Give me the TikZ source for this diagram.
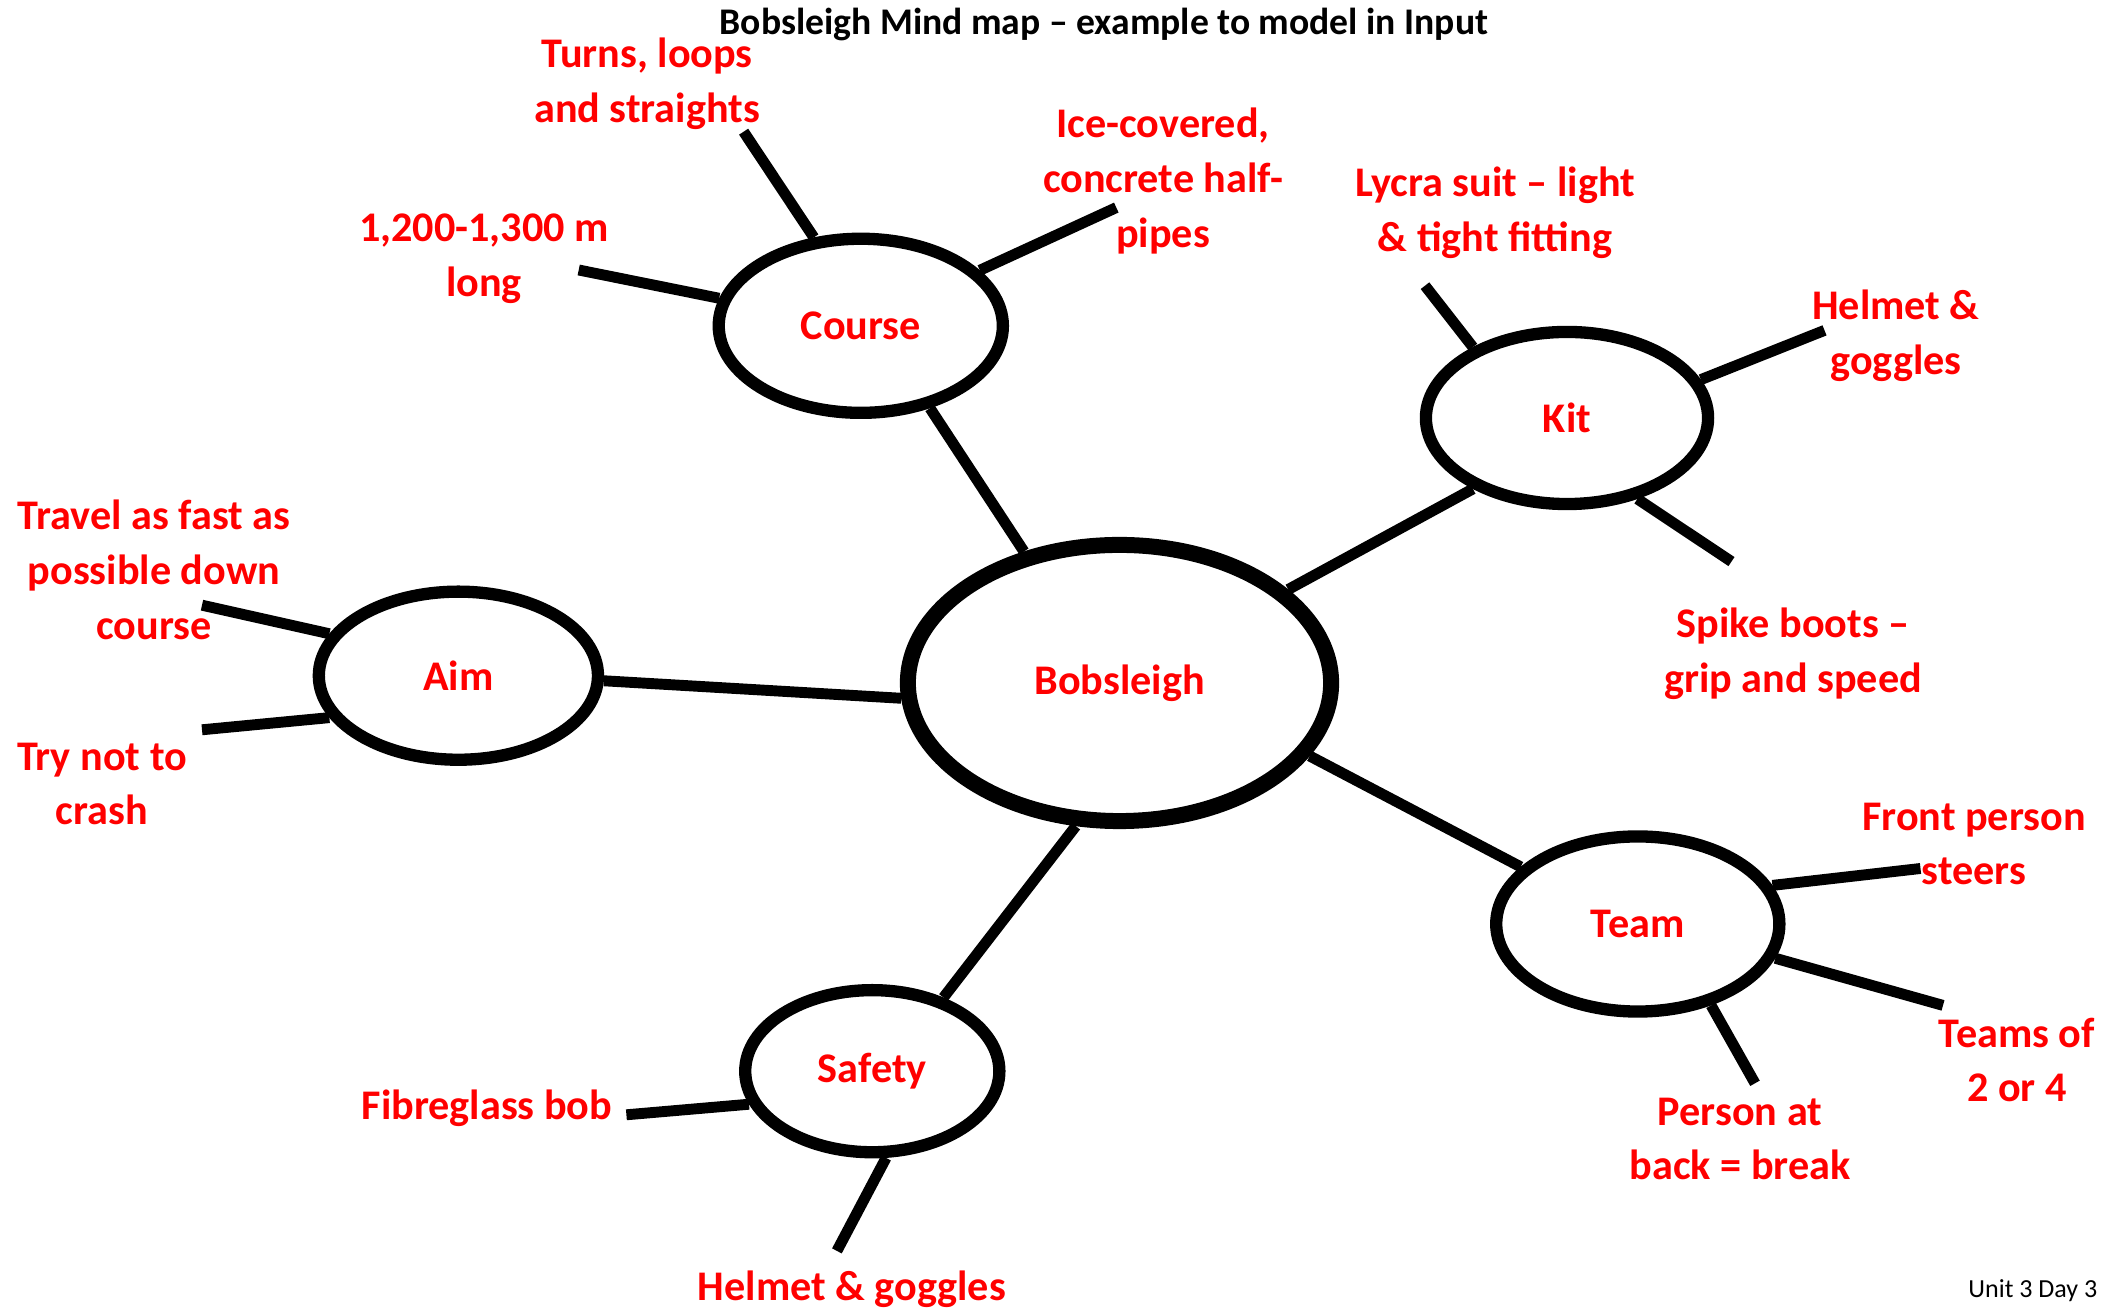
\documentclass[tikz,border=0pt]{standalone}
\usepackage{fontspec}
\setmainfont{Carlito}
\usetikzlibrary{shapes.geometric}

\begin{document}
\begin{tikzpicture}[
	x=0.01cm, y=-0.01cm,
	every node/.style={font=\bfseries\fontsize{12}{15.6}\selectfont},
	bubble/.style={ellipse, draw, line width=3.5pt, text=red, inner sep=0pt},
	hub/.style={bubble, line width=4.55pt},
	leaf/.style={text=red, align=center, inner sep=0pt},
	link/.style={line width=3.1pt}
	]
	\useasboundingbox (0,0) rectangle (2105,1310);
	
	% Title and footer
	\node[anchor=base, font=\bfseries\fontsize{10.7}{13}\selectfont] (title) at (1104,35) {Bobsleigh Mind map -- example to model in Input};
	\node[anchor=base east, inner sep=0pt, font=\fontsize{7.4}{9}\selectfont] (footer) at (2098,1298) {Unit 3 Day 3};
	
	% Bubbles
	\node[hub, minimum width=4.23cm, minimum height=2.76cm] (bob) at (1119.5,683) {Bobsleigh};
	\node[bubble, minimum width=2.84cm, minimum height=1.74cm] (course) at (860.8,325.8) {Course};
	\node[bubble, minimum width=2.82cm, minimum height=1.72cm] (kit) at (1567,418) {Kit};
	\node[bubble, minimum width=2.79cm, minimum height=1.68cm] (aim) at (458.4,675.7) {Aim};
	\node[bubble, minimum width=2.83cm, minimum height=1.75cm] (team) at (1637.8,924) {Team};
	\node[bubble, minimum width=2.54cm, minimum height=1.62cm] (safety) at (872.3,1071.2) {Safety};
	
	% Leaves
	\node[leaf] (turns) at (647,84) {Turns, loops\\and straights};
	\node[leaf] (length) at (484,259) {1,200-1,300 m\\long};
	\node[leaf] (ice) at (1163,181) {Ice-covered,\\concrete half-\\pipes};
	\node[leaf] (lycra) at (1495,213) {Lycra suit -- light\\\& tight fitting};
	\node[leaf] (helmet-kit) at (1896,336) {Helmet \&\\goggles};
	\node[leaf] (spike) at (1793,654) {Spike boots --\\grip and speed};
	\node[leaf] (travel) at (154,569.5) {Travel as fast as\\possible down\\course};
	\node[leaf] (crash) at (102,784) {Try not to\\crash};
	\node[leaf] (front) at (1974,844) {Front person\\steers};
	\node[leaf] (teams) at (2017,1060) {Teams of\\2 or 4};
	\node[leaf] (back) at (1740,1139) {Person at\\back = break};
	\node[leaf, anchor=base] (fibre) at (487,1120) {Fibreglass bob};
	\node[leaf, anchor=base] (helmet-safety) at (852,1301) {Helmet \& goggles};
	
	% Free ends of the leaf lines
	\coordinate (turns-end) at (743.6,131.7);
	\coordinate (length-end) at (578.7,270);
	\coordinate (ice-end) at (1116.3,207.6);
	\coordinate (lycra-end) at (1425,285.7);
	\coordinate (helmet-kit-end) at (1824.5,330.4);
	\coordinate (spike-end) at (1731.5,561.6);
	\coordinate (travel-end) at (202,605.2);
	\coordinate (crash-end) at (202,729.8);
	\coordinate (front-end) at (1920.5,868.5);
	\coordinate (teams-end) at (1943,1005.4);
	\coordinate (back-end) at (1755,1083.3);
	\coordinate (fibre-end) at (626.4,1114.8);
	\coordinate (helmet-safety-end) at (836.9,1250.9);
	
	% Hub to bubbles
	\draw[link] (bob.126.8) -- (course.-50);
	\draw[link] (bob.29.2) -- (kit.-143.3);
	\draw[link] (bob.184.8) -- (aim.-2.9);
	\draw[link] (bob.-21.9) -- (team.154);
	\draw[link] (bob.-107.7) -- (safety.46.3);
	
	% Bubbles to leaves
	\draw[link] (course.118.3) -- (turns-end);
	\draw[link] (course.169.7) -- (length-end);
	\draw[link] (course.25.3) -- (ice-end);
	\draw[link] (kit.143) -- (lycra-end);
	\draw[link] (kit.16.5) -- (helmet-kit-end);
	\draw[link] (kit.-49.3) -- (spike-end);
	\draw[link] (aim.162.9) -- (travel-end);
	\draw[link] (aim.-162.8) -- (crash-end);
	\draw[link] (team.16.2) -- (front-end);
	\draw[link] (team.-14.3) -- (teams-end);
	\draw[link] (team.-48.8) -- (back-end);
	\draw[link] (safety.-165.8) -- (fibre-end);
	\draw[link] (safety.-81.7) -- (helmet-safety-end);
\end{tikzpicture}
\end{document}
